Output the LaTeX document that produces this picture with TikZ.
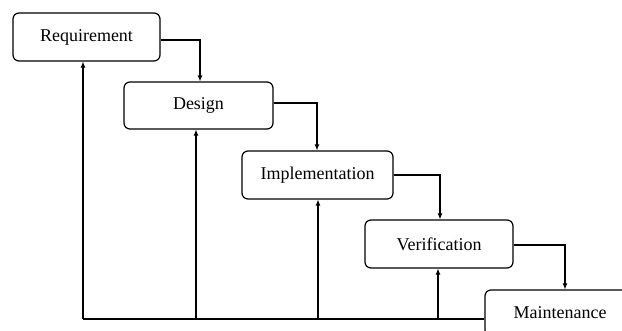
\documentclass[tikz,border=0pt]{standalone}
\usepackage{fontspec}
\setmainfont{Liberation Serif}
\usetikzlibrary{arrows.meta}
\begin{document}
\begin{tikzpicture}[x=1pt,y=-1pt,
  phase/.style={draw, line width=1.2pt, rounded corners=6pt, inner sep=0pt,
    font=\fontsize{18}{20}\selectfont},
  flow/.style={line width=1.1pt, -{Latex[length=6pt,width=5pt]}},
  link/.style={line width=1.1pt}]
  \clip (0,0) rectangle (622,331);
  \fill[white] (0,0) rectangle (622,331);
  % phase boxes
  \node[phase, minimum width=147pt, minimum height=48pt] (req) at (86.5,37) {Requirement};
  \node[phase, minimum width=149pt, minimum height=47pt] (des) at (198.5,105.5) {Design};
  \node[phase, minimum width=151pt, minimum height=48pt] (imp) at (317.5,175) {Implementation};
  \node[phase, minimum width=148pt, minimum height=48pt] (ver) at (439,244) {Verification};
  \node[phase, minimum width=150pt, minimum height=46pt] (mai) at (560,313) {Maintenance};
  % forward flow
  \draw[flow] (req.east |- 0,40) -| (des.north -| 200,0);
  \draw[flow] (des.east |- 0,103) -| (imp.north -| 317,0);
  \draw[flow] (imp.east |- 0,175) -| (ver.north -| 440,0);
  \draw[flow] (ver.east |- 0,245) -| (mai.north -| 565,0);
  % feedback lines
  \coordinate (b1) at (83,319);
  \coordinate (b2) at (196,319);
  \coordinate (b3) at (318,319);
  \coordinate (b4) at (438,319);
  \draw[link] (mai.west |- b1) -- (b1);
  \draw[flow] (b1) -- (req.south -| b1);
  \draw[flow] (b2) -- (des.south -| b2);
  \draw[flow] (b3) -- (imp.south -| b3);
  \draw[flow] (b4) -- (ver.south -| b4);
\end{tikzpicture}
\end{document}
